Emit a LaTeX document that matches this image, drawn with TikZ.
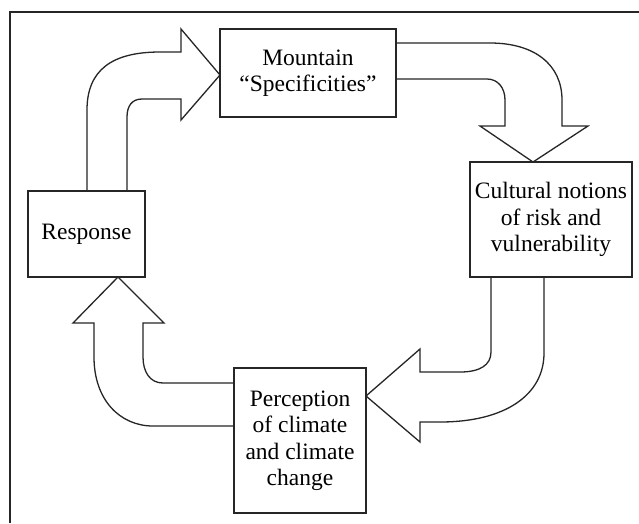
\documentclass[tikz,border=0pt]{standalone}
\usepackage{fontspec}
\setmainfont{Liberation Serif}
\begin{document}
\begin{tikzpicture}[x=1pt,y=-1pt,
  box/.style={draw=black!85, line width=1.6pt, fill=white, rectangle, inner sep=0pt,
    align=center, font=\fontsize{23.5}{26.5}\selectfont},
  blockarrow/.style={draw=black!85, line width=1.3pt, fill=white, line join=miter}]
\useasboundingbox (0,0) rectangle (639,523);
\fill[white] (0,0) rectangle (639,523);
% frame
\draw[line width=2.6pt, black!85] (10,523) -- (10,12) -- (639,12);

% block arrows
% Response -> Mountain
\draw[blockarrow] (87,191) -- (87,110) .. controls (87,70) and (112,52) .. (160,52) -- (181,52)
  -- (181,29) -- (220,75) -- (181,120) -- (181,99) -- (142,99)
  .. controls (132,99) and (127,106) .. (127,117) -- (127,191);
% Mountain -> Cultural
\draw[blockarrow] (396,43) -- (490,43) .. controls (535,43) and (562,65) .. (562,100) -- (562,126)
  -- (588,126) -- (533,162) -- (480,126) -- (505,126) -- (505,100)
  .. controls (505,88) and (498,79) .. (487,79) -- (396,79);
% Cultural -> Perception
\draw[blockarrow] (544,277) -- (544,353) .. controls (544,395) and (505,422) .. (440,422) -- (420,422)
  -- (420,442) -- (366,396) -- (420,349) -- (420,372) -- (460,372)
  .. controls (480,372) and (491,365) .. (491,352) -- (491,277);
% Perception -> Response
\draw[blockarrow] (234,383) -- (163,383) .. controls (150,383) and (143,372) .. (143,357) -- (143,323)
  -- (164,323) -- (118,277) -- (73,323) -- (94,323) -- (94,357)
  .. controls (94,400) and (120,426) .. (153,426) -- (234,426);

% boxes
\node[box, minimum width=176pt, minimum height=88pt] (mount) at (308,73) {Mountain\\“Specificities”};
\node[box, minimum width=162pt, minimum height=115pt] (cult) at (551,219.5) {Cultural notions\\of risk and\\vulnerability};
\node[box, minimum width=132pt, minimum height=145pt] (perc) at (300,440.5) {Perception\\of climate\\and climate\\change};
\node[box, minimum width=117pt, minimum height=86pt] (resp) at (86.5,234) {Response};
\end{tikzpicture}
\end{document}
